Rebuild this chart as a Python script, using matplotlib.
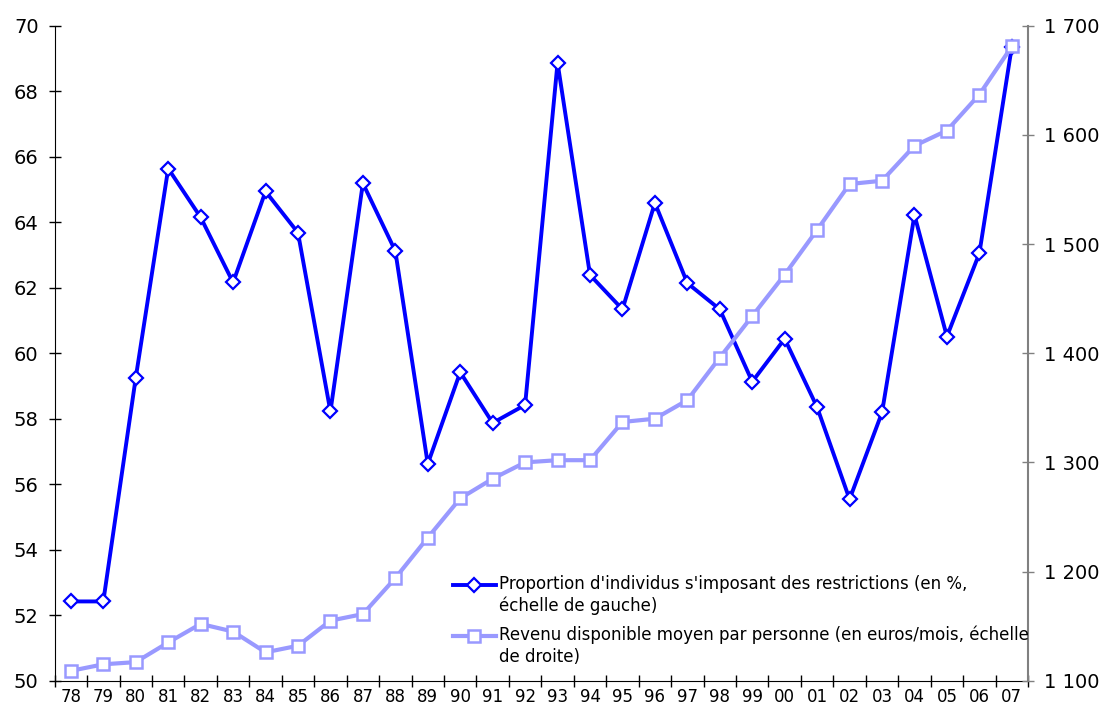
import matplotlib
matplotlib.use("Agg")
import matplotlib.pyplot as plt
from matplotlib.ticker import FuncFormatter, FixedLocator
from matplotlib.legend_handler import HandlerLine2D

years = ["78", "79", "80", "81", "82", "83", "84", "85", "86", "87",
         "88", "89", "90", "91", "92", "93", "94", "95", "96", "97",
         "98", "99", "00", "01", "02", "03", "04", "05", "06", "07"]

# proportion s'imposant des restrictions (%), left scale
proportion = [52.42, 52.42, 59.25, 65.64, 64.15, 62.16, 64.94, 63.68, 58.22, 65.19,
              63.12, 56.62, 59.42, 57.87, 58.42, 68.87, 62.39, 61.34, 64.59, 62.14,
              61.34, 59.13, 60.44, 58.35, 55.54, 58.19, 64.22, 60.51, 63.05, 69.36]

# revenu disponible moyen (euros/mois), right scale
revenu = [1109, 1115, 1117, 1135, 1152, 1145, 1126, 1132, 1155, 1161,
          1194, 1231, 1267, 1285, 1300, 1302, 1302, 1337, 1340, 1357,
          1396, 1434, 1472, 1513, 1555, 1558, 1590, 1604, 1637, 1681]

label_prop = "Proportion d'individus s'imposant des restrictions (en %,\n\u00e9chelle de gauche)"
label_rev = "Revenu disponible moyen par personne (en euros/mois, \u00e9chelle\nde droite)"

dark = "#0000FF"
light = "#9999FF"


class FirstLineHandler(HandlerLine2D):
    # put the legend handle next to the first line of a two-line label
    def create_artists(self, legend, orig_handle, xdescent, ydescent,
                       width, height, fontsize, trans):
        return super().create_artists(legend, orig_handle, xdescent, ydescent - 16,
                                      width, height, fontsize, trans)


fig = plt.figure(figsize=(11.15, 7.15), dpi=100)
ax = fig.add_axes([0.049, 0.048, 0.873, 0.916])
ax2 = ax.twinx()

x = list(range(len(years)))

l1, = ax.plot(x, proportion, color=dark, lw=2.8, marker="D", ms=7.5,
              mfc="white", mec=dark, mew=1.6, label=label_prop)
l2, = ax2.plot(x, revenu, color=light, lw=3.0, marker="s", ms=8,
               mfc="white", mec=light, mew=1.8, label=label_rev)

ax.set_xlim(-0.5, len(years) - 0.5)
ax.set_ylim(50, 70)
ax.set_yticks(range(50, 71, 2))
ax2.set_ylim(1100, 1700)
ax2.set_yticks(range(1100, 1701, 100))
ax2.yaxis.set_major_formatter(FuncFormatter(lambda v, p: "{:,.0f}".format(v).replace(",", " ")))

# category axis: labels centred, ticks on the boundaries
ax.set_xticks(x)
ax.set_xticklabels(years)
ax.tick_params(axis="x", which="major", length=0, pad=5, labelsize=12)
ax.xaxis.set_minor_locator(FixedLocator([i - 0.5 for i in range(len(years) + 1)]))
ax.tick_params(axis="x", which="minor", direction="inout", length=9, width=1)

ax.tick_params(axis="y", direction="inout", length=9, width=1, pad=7, labelsize=14)
ax2.tick_params(axis="y", direction="inout", length=9, width=1, pad=7, labelsize=14,
                color="#808080")

ax.spines["top"].set_visible(False)
ax2.spines["top"].set_visible(False)
ax.spines["right"].set_visible(False)
ax2.spines["left"].set_visible(False)
ax2.spines["bottom"].set_visible(False)
ax2.spines["right"].set_color("#808080")
ax2.spines["right"].set_linewidth(1.5)

leg = ax2.legend(handles=[l1, l2], loc="lower left", bbox_to_anchor=(0.402, 0.012),
                 frameon=False, fontsize=12, handlelength=2.6, handletextpad=0.2,
                 labelspacing=0.6, borderaxespad=0,
                 handler_map={l1: FirstLineHandler(), l2: FirstLineHandler()})
for t in leg.get_texts():
    t.set_linespacing(1.3)

fig.savefig("out.png", dpi=100)
